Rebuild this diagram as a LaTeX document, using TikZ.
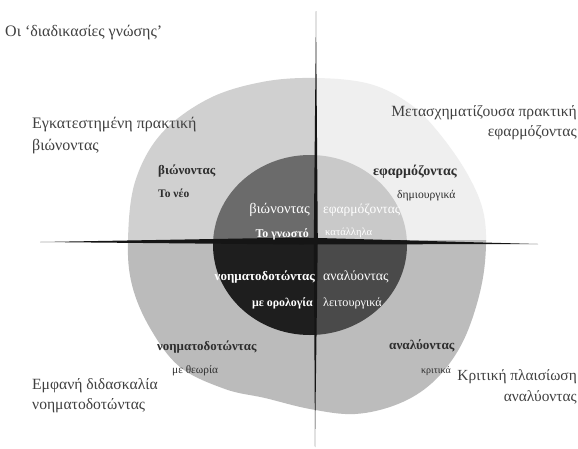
\documentclass[tikz,border=0pt]{standalone}
\usepackage{fontspec}
\setmainfont{Liberation Serif}
\definecolor{outTL}{HTML}{D0D0D0}
\definecolor{outTR}{HTML}{EFEFEF}
\definecolor{outBL}{HTML}{BBBBBB}
\definecolor{outBR}{HTML}{BCBCBC}
\definecolor{inTL}{HTML}{6B6B6B}
\definecolor{inTR}{HTML}{C9C9C9}
\definecolor{inBL}{HTML}{1E1E1E}
\definecolor{inBR}{HTML}{4A4A4A}
\definecolor{labelgray}{HTML}{2E2E2E}
\definecolor{titlegray}{HTML}{404040}
\definecolor{barblack}{HTML}{151515}
% the outer region of the knowledge processes
\newcommand\outerblob[1]{\fill[#1] plot[smooth cycle, tension=0.6] coordinates {
  (316,78) (370,84) (410,104) (439,133) (468,175) (484,215) (485,262)
  (476,307) (459,349) (432,383) (398,404) (355,414) (310,409) (265,398)
  (225,389) (180,367) (150,328) (132,285) (128,240) (135,182) (161,134)
  (208,99) (262,82)};}
\newcommand\innerdisc[1]{\fill[#1] (310,245) ellipse [x radius=97, y radius=90];}
\newcommand\fs[1]{\fontsize{#1}{#1}\selectfont}
\tikzset{
  heading/.style={inner sep=0pt, text=titlegray, align=left},
  quadlabel/.style={inner sep=0pt, text=labelgray},
  corelabel/.style={inner sep=0pt, text=white},
}
\begin{document}
\begin{tikzpicture}[x=1pt, y=-1pt]
\useasboundingbox (0,0) rectangle (578,448);
\fill[white] (0,0) rectangle (578,448);

% outer ring, one shade per quadrant
\begin{scope}\clip (0,0) rectangle (315,240); \outerblob{outTL}\end{scope}
\begin{scope}\clip (315,0) rectangle (578,240); \outerblob{outTR}\end{scope}
\begin{scope}\clip (0,240) rectangle (315,448); \outerblob{outBL}\end{scope}
\begin{scope}\clip (315,240) rectangle (578,448); \outerblob{outBR}\end{scope}

% inner disc, one shade per quadrant
\begin{scope}\clip (0,0) rectangle (315,240); \innerdisc{inTL}\end{scope}
\begin{scope}\clip (315,0) rectangle (578,240); \innerdisc{inTR}\end{scope}
\begin{scope}\clip (0,240) rectangle (315,448); \innerdisc{inBL}\end{scope}
\begin{scope}\clip (315,240) rectangle (578,448); \innerdisc{inBR}\end{scope}

% tapered axes
\coordinate (htip1) at (40,242);
\coordinate (htip2) at (538,244);
\coordinate (vtip1) at (316,11);
\coordinate (vtip2) at (315,447);
\fill[barblack] (htip1) -- (300,237.5) -- (htip2) -- (300,244.5) -- cycle;
\fill[barblack] (vtip1) -- (317.8,240) -- (vtip2) -- (313.8,240) -- cycle;

% headings
\node[heading, anchor=west, font=\fs{16}] (title) at (5,33) {Οι ‘διαδικασίες γνώσης’};
\node[heading, anchor=west, font=\fs{16}] (exp1) at (32,125) {Εγκατεστημένη πρακτική};
\node[heading, anchor=west, font=\fs{16}] (exp2) at (32,147) {βιώνοντας};
\node[heading, anchor=east, font=\fs{15.6}] (app1) at (577,113) {Μετασχηματίζουσα πρακτική};
\node[heading, anchor=east, font=\fs{15.6}] (app2) at (577,133) {εφαρμόζοντας};
\node[heading, anchor=west, font=\fs{15.6}] (conc1) at (32,386) {Εμφανή διδασκαλία};
\node[heading, anchor=west, font=\fs{15.6}] (conc2) at (32,406) {νοηματοδοτώντας};
\node[heading, anchor=east, font=\fs{15.4}] (anal1) at (577,377) {Κριτική πλαισίωση};
\node[heading, anchor=east, font=\fs{15.4}] (anal2) at (577,397) {αναλύοντας};

% outer quadrant labels
\node[quadlabel, anchor=west, font=\fs{13}\bfseries] (q1) at (158,171) {βιώνοντας};
\node[quadlabel, anchor=west, font=\fs{11.5}\bfseries] (q1n) at (158,193) {Το νέο};
\node[quadlabel, anchor=west, font=\fs{14}\bfseries] (q2) at (373,172) {εφαρμόζοντας};
\node[quadlabel, anchor=west, font=\fs{11.6}] (q2n) at (397,196) {δημιουργικά};
\node[quadlabel, anchor=west, font=\fs{12.9}\bfseries] (q3) at (157,347) {νοηματοδοτώντας};
\node[quadlabel, anchor=west, font=\fs{11.3}] (q3n) at (172,371) {με θεωρία};
\node[quadlabel, anchor=west, font=\fs{13.2}\bfseries] (q4) at (389,346) {αναλύοντας};
\node[quadlabel, anchor=west, font=\fs{10}] (q4n) at (421,371) {κριτικά};

% inner quadrant labels
\node[corelabel, anchor=east, font=\fs{14.5}] (c1) at (310,210) {βιώνοντας};
\node[corelabel, anchor=east, font=\fs{11.9}\bfseries] (c1n) at (309,234) {Το γνωστό};
\node[corelabel, anchor=west, font=\fs{13.5}] (c2) at (323,210) {εφαρμόζοντας};
\node[corelabel, anchor=west, font=\fs{10.6}] (c2n) at (325,233) {κατάλληλα};
\node[corelabel, anchor=east, font=\fs{13}\bfseries] (c3) at (315,277) {νοηματοδοτώντας};
\node[corelabel, anchor=east, font=\fs{11.9}\bfseries] (c3n) at (313,303) {με ορολογία};
\node[corelabel, anchor=west, font=\fs{13.8}] (c4) at (323,277) {αναλύοντας};
\node[corelabel, anchor=west, font=\fs{12.2}] (c4n) at (323,303) {λειτουργικά};
\end{tikzpicture}
\end{document}
